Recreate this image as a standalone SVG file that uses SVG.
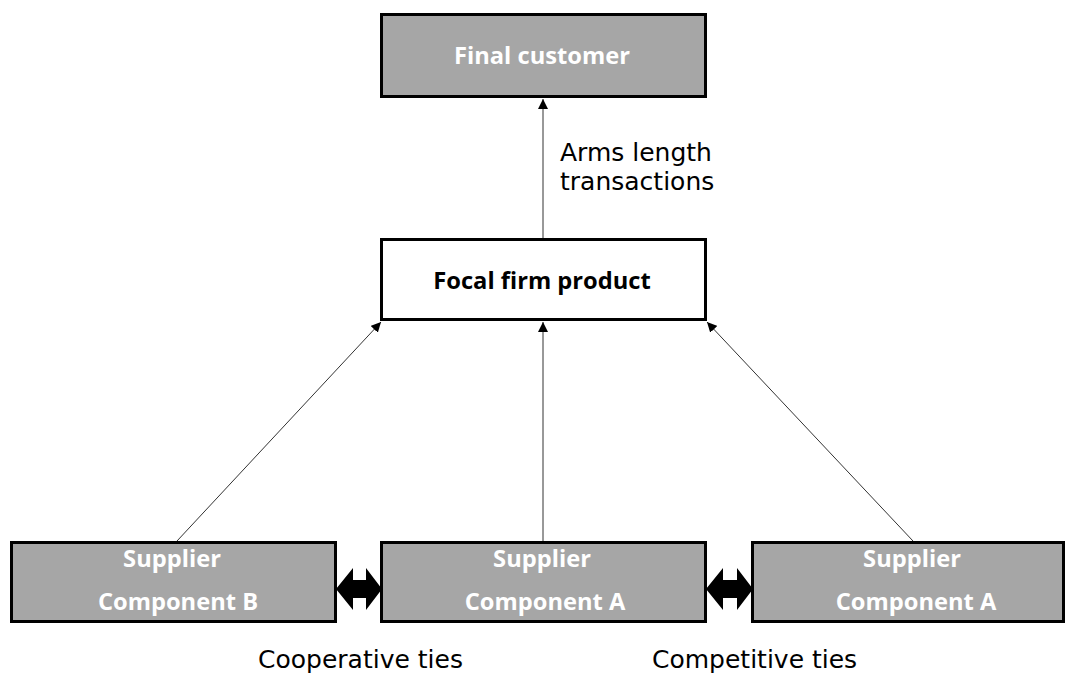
<svg xmlns="http://www.w3.org/2000/svg" width="1066" height="673" viewBox="0 0 1066 673">
  <style>
    .box { stroke: #000; stroke-width: 3; }
    .grey { fill: #a6a6a6; }
    .white { fill: #fff; }
    .lbl { font-family: "Open Sans", "Liberation Sans", sans-serif; font-weight: bold; font-size: 23.7px; text-anchor: middle; }
    .lbl-w { fill: #fff; }
    .lbl-k { fill: #000; }
    .note { font-family: "DejaVu Sans", Verdana, sans-serif; font-size: 25px; fill: #000; }
    .link { stroke: #333; stroke-width: 1; fill: none; marker-end: url(#tip); }
    .tie { fill: #000; }
  </style>
  <defs>
    <marker id="tip" viewBox="0 0 10 10" refX="10" refY="5" markerWidth="10" markerHeight="10" markerUnits="userSpaceOnUse" orient="auto">
      <path d="M0,0 L10,5 L0,10 Z" fill="#000"/>
    </marker>
  </defs>

  <g id="connectors">
    <line class="link" x1="543" y1="238" x2="543" y2="99"/>
    <line class="link" x1="177" y1="541" x2="381" y2="322"/>
    <line class="link" x1="543" y1="541" x2="543" y2="322"/>
    <line class="link" x1="913" y1="541" x2="707" y2="322"/>
    <polygon class="tie" points="336,589 353,568 353,580 366,580 366,568 382,589 366,610 366,598 353,598 353,610"/>
    <polygon class="tie" points="706,589 723,568 723,580 737,580 737,568 753,589 737,610 737,598 723,598 723,610"/>
  </g>

  <g id="final-customer">
    <rect class="box grey" x="381.5" y="14.5" width="324" height="82"/>
    <text class="lbl lbl-w" x="542" y="64">Final customer</text>
  </g>

  <g id="arms-length-label">
    <text class="note" x="560" y="161">Arms length</text>
    <text class="note" x="560" y="190">transactions</text>
  </g>

  <g id="focal-firm">
    <rect class="box white" x="381.5" y="239.5" width="324" height="80"/>
    <text class="lbl lbl-k" x="542" y="289">Focal firm product</text>
  </g>

  <g id="supplier-b">
    <rect class="box grey" x="11.5" y="542.5" width="324" height="79"/>
    <text class="lbl lbl-w" x="172" y="567">Supplier</text>
    <text class="lbl lbl-w" x="178" y="610">Component B</text>
  </g>

  <g id="supplier-a-centre">
    <rect class="box grey" x="381.5" y="542.5" width="324" height="79"/>
    <text class="lbl lbl-w" x="542" y="567">Supplier</text>
    <text class="lbl lbl-w" x="545" y="610">Component A</text>
  </g>

  <g id="supplier-a-right">
    <rect class="box grey" x="752.5" y="542.5" width="311" height="79"/>
    <text class="lbl lbl-w" x="912" y="567">Supplier</text>
    <text class="lbl lbl-w" x="916" y="610">Component A</text>
  </g>

  <g id="tie-labels">
    <text class="note" x="258" y="668">Cooperative ties</text>
    <text class="note" x="652" y="668">Competitive ties</text>
  </g>
</svg>
